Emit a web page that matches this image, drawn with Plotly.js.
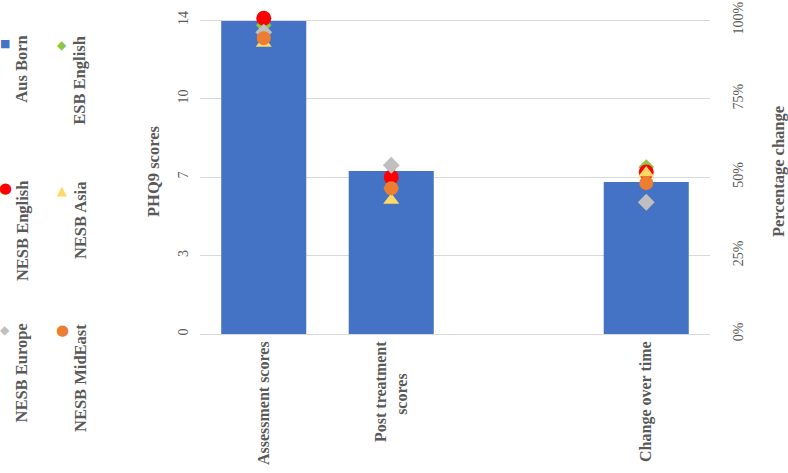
<!DOCTYPE html>
<html>
<head>
<meta charset="utf-8">
<script src="https://cdn.plot.ly/plotly-3.0.1.min.js"></script>
<style>body{margin:0;background:#fff}</style>
</head>
<body>
<div id="chart" style="width:788px;height:473px"></div>
<script>
// categories (the blank one is the empty slot before "Change over time")
let scoreCats = ['Assessment scores', 'Post treatment<br>scores\u00a0\u00a0\u00a0\u00a0\u00a0\u00a0\u00a0\u00a0', ' '];
let changeCat = ['Change over time'];

// Aus Born bars: scores on the left axis, change on the right axis
let ausScores = [13.97, 7.27, null];
let ausChange = [0.484];

// other groups: [assessment, post treatment] and change over time
let esbEnglish = [13.78, 6.5];       let esbEnglishChg = [0.532];
let nesbEnglish = [14.09, 7.0];      let nesbEnglishChg = [0.516];
let nesbAsia = [12.97, 5.97];        let nesbAsiaChg = [0.513];
let nesbEurope = [13.46, 7.53];      let nesbEuropeChg = [0.42];
let nesbMidEast = [13.2, 6.5];       let nesbMidEastChg = [0.481];

let leftTicks = [0, 3.5, 7, 10.5, 14];
let leftTickText = ['0', '3', '7', '10', '14'];

let grey = '#595959';
let serif = 'Liberation Serif, Times New Roman, serif';

let groups = [
  {name: 'ESB English', s: esbEnglish, c: esbEnglishChg, sym: 'diamond', col: '#8DC63F', size: 12},
  {name: 'NESB English', s: nesbEnglish, c: nesbEnglishChg, sym: 'circle', col: '#FF0000', size: 15},
  {name: 'NESB Asia', s: nesbAsia, c: nesbAsiaChg, sym: 'triangle-up', col: '#FFD966', size: 14},
  {name: 'NESB Europe', s: nesbEurope, c: nesbEuropeChg, sym: 'diamond', col: '#BFBFBF', size: 13},
  {name: 'NESB MidEast', s: nesbMidEast, c: nesbMidEastChg, sym: 'circle', col: '#ED7D31', size: 14}
];

let data = [
  {x: scoreCats, y: ausScores, type: 'bar', name: 'Aus Born', width: 0.667,
   marker: {color: '#4472C4'}, showlegend: false, yaxis: 'y'},
  {x: changeCat, y: ausChange, type: 'bar', name: 'Aus Born', width: 0.667,
   marker: {color: '#4472C4'}, showlegend: false, yaxis: 'y2'}
];
groups.forEach(function(g) {
  data.push({x: scoreCats.slice(0, 2), y: g.s, type: 'scatter', mode: 'markers', name: g.name,
    marker: {symbol: g.sym, color: g.col, size: g.size}, showlegend: false, cliponaxis: false, yaxis: 'y'});
  data.push({x: changeCat, y: g.c, type: 'scatter', mode: 'markers', name: g.name,
    marker: {symbol: g.sym, color: g.col, size: g.size}, showlegend: false, cliponaxis: false, yaxis: 'y2'});
});

// plot area: 14 sits at y=20, 0 at y=334; range runs a bit above 14 so top markers stay drawn
let yTop = 14.5;
let plotH = 314 * yTop / 14;
let topM = 334 - plotH;

// helpers turning picture pixels into paper coords for the rotated legend
function px(x) { return (x - 200) / 510; }
function py(y) { return (334 - y) / plotH; }

let legendItems = [
  {t: 'Aus Born', x: 22, y: 34, mx: 5, my: 43, ch: '■', col: '#4472C4', fs: 11},
  {t: 'ESB English', x: 80, y: 34, mx: 62, my: 45, ch: '◆', col: '#8DC63F', fs: 12},
  {t: 'NESB English', x: 22, y: 179, mx: 5, my: 188, ch: '●', col: '#FF0000', fs: 15},
  {t: 'NESB Asia', x: 80, y: 179, mx: 62, my: 190, ch: '▲', col: '#FFD966', fs: 13},
  {t: 'NESB Europe', x: 22, y: 322, mx: 5, my: 330, ch: '◆', col: '#BFBFBF', fs: 12},
  {t: 'NESB MidEast', x: 80, y: 322, mx: 62, my: 330, ch: '●', col: '#ED7D31', fs: 15}
];
let annotations = [];
legendItems.forEach(function(it) {
  annotations.push({text: it.t, xref: 'paper', yref: 'paper', x: px(it.x), y: py(it.y),
    xanchor: 'center', yanchor: 'top', textangle: -90, showarrow: false,
    font: {family: serif, size: 16.5, color: grey, weight: 'bold'}});
  annotations.push({text: it.ch, xref: 'paper', yref: 'paper', x: px(it.mx), y: py(it.my),
    xanchor: 'center', yanchor: 'middle', showarrow: false,
    font: {family: 'DejaVu Sans', size: it.fs, color: it.col}});
});

let layout = {
  width: 788,
  height: 473,
  margin: {l: 200, r: 78, t: topM, b: 139},
  paper_bgcolor: '#fff',
  plot_bgcolor: '#fff',
  barmode: 'overlay',
  showlegend: false,
  annotations: annotations,
  xaxis: {
    type: 'category',
    range: [-0.5, 3.5],
    tickangle: -90,
    tickfont: {family: serif, size: 16, color: grey, weight: 'bold'},
    showline: true, linecolor: '#D9D9D9', linewidth: 1,
    ticks: '', showgrid: false
  },
  yaxis: {
    range: [0, yTop],
    tickvals: leftTicks, ticktext: leftTickText,
    tickangle: -90,
    tickfont: {family: serif, size: 14, color: grey},
    ticklabelstandoff: 8,
    gridcolor: '#D9D9D9', zeroline: false,
    title: {text: 'PHQ9 scores', font: {family: serif, size: 16.5, color: grey, weight: 'bold'}, standoff: 12}
  },
  yaxis2: {
    overlaying: 'y', side: 'right',
    range: [0, yTop / 14], tickvals: [0, 0.25, 0.5, 0.75, 1], tickformat: '.0%',
    tickangle: -90,
    tickfont: {family: serif, size: 14, color: grey},
    ticklabelstandoff: 18,
    showgrid: false, zeroline: false,
    title: {text: 'Percentage change', font: {family: serif, size: 16.5, color: grey, weight: 'bold'}, standoff: 29}
  }
};

Plotly.newPlot('chart', data, layout, {displayModeBar: false});
</script>
</body>
</html>
